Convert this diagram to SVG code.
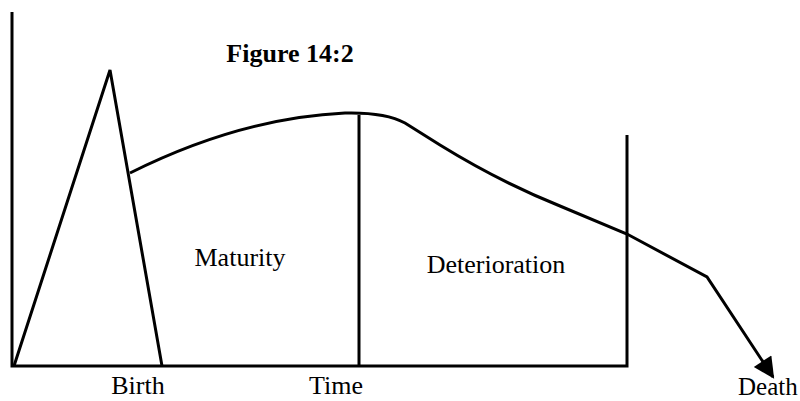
<svg xmlns="http://www.w3.org/2000/svg" width="800" height="401" viewBox="0 0 800 401">
<style>
.ln{fill:none;stroke:#000;stroke-width:3;stroke-linejoin:miter}
.t{font-family:"Liberation Serif",serif;font-size:26px;fill:#000}
.b{font-family:"Liberation Serif",serif;font-size:26px;font-weight:bold;fill:#000}
</style>
<defs>
<marker id="ah" viewBox="0 0 10 10" refX="9" refY="5" markerWidth="8" markerHeight="7" markerUnits="strokeWidth" orient="auto">
<path d="M0,0 L10,5 L0,10 z" fill="#000"/>
</marker>
</defs>
<rect width="800" height="401" fill="#fff"/>
<g id="axes">
<path class="ln" d="M12,12 L12,366 L627,366 L627,135"/>
</g>
<g id="connectors">
<path class="ln" d="M14,366 L110,70 L162,366"/>
<path class="ln" d="M359,115 L359,366"/>
<path class="ln" d="M130,173 Q240,118 345,113 Q385,112 405,123 L440,145 Q500,182 560,206 L627,234 L707,277 L773,377" marker-end="url(#ah)"/>
</g>
<g id="title"><text class="b" x="290" y="62" text-anchor="middle">Figure 14:2</text></g>
<g id="maturity"><text class="t" x="240" y="266" text-anchor="middle">Maturity</text></g>
<g id="deterioration"><text class="t" x="496" y="273" text-anchor="middle">Deterioration</text></g>
<g id="birth"><text class="t" x="138" y="394" text-anchor="middle">Birth</text></g>
<g id="time"><text class="t" x="336" y="394" text-anchor="middle">Time</text></g>
<g id="death"><text class="t" x="738" y="395" style="font-size:25px">Death</text></g>
</svg>
